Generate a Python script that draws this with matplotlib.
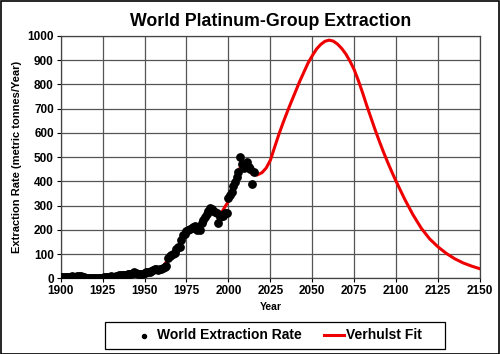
import numpy as np
import matplotlib
matplotlib.use("Agg")
import matplotlib.pyplot as plt
from matplotlib.patches import Rectangle

plt.rcParams['font.family'] = ['Liberation Sans', 'DejaVu Sans']

# donnees
years = np.arange(1900, 2016)
extraction = [6, 7, 7, 8, 8, 7, 8, 9, 8, 8,
              9, 9, 9, 8, 6, 4, 3, 3, 3, 3,
              3, 3, 3, 4, 4, 4, 5, 5, 6, 8,
              9, 8, 7, 9, 11, 13, 14, 16, 16, 16,
              17, 18, 19, 22, 28, 22, 17, 18, 19, 20,
              22, 25, 26, 28, 30, 34, 38, 40, 36, 40,
              38, 42, 46, 52, 85, 92, 96, 100, 104, 122,
              130, 128, 160, 178, 185, 195, 200, 205, 208, 212,
              215, 200, 205, 200, 230, 240, 252, 265, 280, 290,
              288, 280, 275, 270, 227, 252, 262, 258, 270, 268,
              330, 342, 355, 380, 398, 420, 440, 502, 470, 455,
              468, 480, 460, 452, 390, 437]

# courbe de Verhulst (valeurs lues)
fit_years = [1900, 1905, 1910, 1915, 1920, 1925, 1930, 1935, 1940, 1945,
             1950, 1955, 1960, 1965, 1970, 1975, 1980, 1985, 1990, 1995,
             2000, 2005, 2008, 2011, 2014, 2017, 2020, 2022.5, 2025, 2027.5,
             2030, 2032.5, 2035, 2037.5, 2040, 2042.5, 2045, 2047.5, 2050, 2052.5,
             2055, 2057.5, 2060, 2062.5, 2065, 2067.5, 2070, 2072.5, 2075, 2077.5,
             2080, 2082.5, 2085, 2087.5, 2090, 2092.5, 2095, 2097.5, 2100, 2105,
             2110, 2115, 2120, 2125, 2130, 2135, 2140, 2145, 2150]
fit_values = [6, 7, 8, 4, 3, 4, 8, 13, 17, 21,
              23, 33, 42, 85, 125, 190, 212, 235, 282, 262,
              318, 430, 470, 465, 430, 426, 436, 455, 487, 540,
              592, 640, 685, 728, 770, 812, 850, 888, 918, 945,
              964, 977, 982, 978, 966, 948, 925, 895, 860, 815,
              765, 712, 662, 612, 565, 520, 478, 438, 400, 328,
              263, 207, 163, 130, 103, 81, 64, 51, 40]

fig = plt.figure(figsize=(5, 3.54), dpi=100)
ax = fig.add_axes([0.1214, 0.2133, 0.8386, 0.6857])

ax.plot(fit_years, fit_values, color='#ee0000', lw=2.2, label='Verhulst Fit', zorder=3)
ax.scatter(years, extraction, s=28, color='black', label='World Extraction Rate', zorder=4)

ax.set_xlim(1900, 2150)
ax.set_ylim(0, 1000)
ax.set_xticks(np.arange(1900, 2151, 25))
ax.set_yticks(np.arange(0, 1001, 100))
ax.grid(True, color='#555555', lw=0.9)
ax.set_axisbelow(True)
ax.tick_params(direction='out', length=3, width=0.8, labelsize=8.5, pad=2)
for lab in ax.get_xticklabels() + ax.get_yticklabels():
    lab.set_fontweight('bold')
for s in ax.spines.values():
    s.set_color('#444444')
    s.set_linewidth(0.9)

ax.set_title('World Platinum-Group Extraction', fontsize=12.8, fontweight='bold', pad=7)
ax.set_xlabel('Year', fontsize=7.5, fontweight='bold', labelpad=3)
ax.set_ylabel('Extraction Rate (metric tonnes/Year)', fontsize=8, fontweight='bold', labelpad=4)

# legende : cadre dessine a part
h, l = ax.get_legend_handles_labels()
leg = fig.legend(h[::-1], l[::-1], ncol=2, loc='center', bbox_to_anchor=(0.556, 0.0523),
                 frameon=False, prop={'weight': 'bold', 'size': 10},
                 handlelength=1.5, handletextpad=0.15, columnspacing=1.6,
                 markerscale=0.55)
fig.patches.append(Rectangle((0.21, 0.0141), 0.68, 0.0763, transform=fig.transFigure,
                             fill=False, edgecolor='black', lw=0.9))

fig.patches.append(Rectangle((0.001, 0.001), 0.997, 0.997, transform=fig.transFigure,
                             fill=False, edgecolor='black', lw=1.2))

fig.savefig('out.png', dpi=100)
